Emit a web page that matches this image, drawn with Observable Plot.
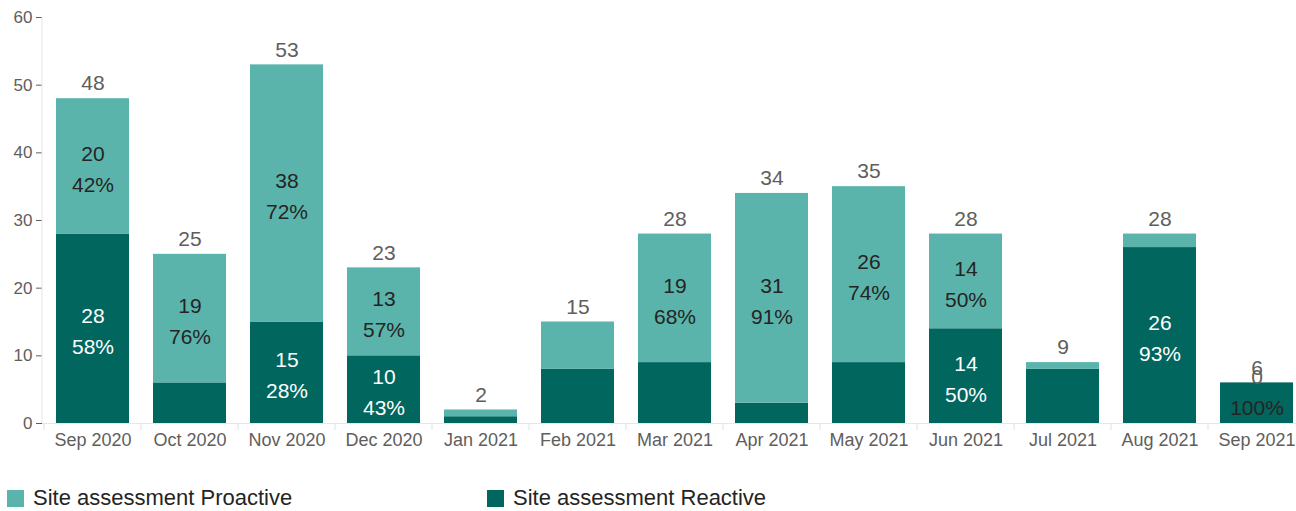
<!DOCTYPE html>
<html><head><meta charset="utf-8">
<script src="https://cdn.jsdelivr.net/npm/d3@7"></script>
<script src="https://cdn.jsdelivr.net/npm/@observablehq/plot@0.6"></script>
<style>
body{margin:0;background:#fff;font-family:"Liberation Sans",Arial,sans-serif;position:relative;width:1296px;height:511px;overflow:hidden;}
#legend{position:absolute;left:0;top:487px;display:flex;font-size:22px;line-height:1;color:#252423;}
#legend .item{display:flex;align-items:flex-start;width:480px;padding-left:7px;box-sizing:border-box;white-space:nowrap;}
#legend .sw{width:17px;height:17px;margin-top:3px;margin-right:9px;flex:none;}
</style></head><body><div id="chart"></div><div id="legend"></div>
<script>
const months = ["Sep 2020","Oct 2020","Nov 2020","Dec 2020","Jan 2021","Feb 2021","Mar 2021","Apr 2021","May 2021","Jun 2021","Jul 2021","Aug 2021","Sep 2021"];
const proactive = [20,19,38,13,1,7,19,31,26,14,1,2,0];
const reactive  = [28,6,15,10,1,8,9,3,9,14,8,26,6];
const seriesNames = ["Site assessment Reactive","Site assessment Proactive"];
const seriesColors = ["#01665e","#5ab4ac"];
const yTicks = [0,10,20,30,40,50,60];
const pctOnlyMonths = ["Sep 2021"];

const rows = [];
months.forEach((m,i)=>{
  const total = proactive[i]+reactive[i];
  rows.push({month:m, series:seriesNames[0], value:reactive[i], pct:Math.round(reactive[i]/total*100),
             mid:reactive[i]/2});
  rows.push({month:m, series:seriesNames[1], value:proactive[i], pct:Math.round(proactive[i]/total*100),
             mid:reactive[i]+proactive[i]/2});
});
const totals = months.map((m,i)=>({month:m, total:proactive[i]+reactive[i]}));
const normalRows = rows.filter(d => !pctOnlyMonths.includes(d.month) && d.value >= 10);
const specialReactive = rows.filter(d => pctOnlyMonths.includes(d.month) && d.series===seriesNames[0]);
const specialProactive = rows.filter(d => pctOnlyMonths.includes(d.month) && d.series===seriesNames[1]);

const chart = Plot.plot({
  width:1296, height:460,
  marginTop:17, marginBottom:37, marginLeft:42, marginRight:0,
  style:{fontFamily:"'Liberation Sans', Arial, sans-serif", background:"#fff"},
  x:{domain:months, range:[43,1305], paddingInner:0.25, paddingOuter:0.125, label:null},
  y:{domain:[0,60], label:null},
  color:{domain:seriesNames, range:seriesColors},
  marks:[
    Plot.ruleY([0],{stroke:"#e6e6e6"}),
    Plot.barY(rows, {x:"month", y:"value", fill:"series"}),
    Plot.text(normalRows, {x:"month", y:"mid",
      text:d=>`${d.value}\n${d.pct}%`,
      fill:d=>d.series===seriesNames[0] ? "#ffffff" : "#252423",
      fontSize:21, lineHeight:1.48}),
    Plot.text(specialReactive, {x:"month", y:"mid", text:d=>`${d.pct}%`, fill:"#252423", dy:5, fontSize:21}),
    Plot.text(totals, {x:"month", y:"total", text:d=>`${d.total}`, dy:-15, fontSize:21, fill:"#605e5c"}),
    Plot.text(specialProactive, {x:"month", y:"mid", text:d=>`${d.value}`, fill:"#605e5c", dy:-6, fontSize:21}),
    Plot.axisY({ticks:yTicks, tickSize:6, tickPadding:4, fontSize:17, color:"#605e5c", stroke:"#605e5c", label:null}),
    Plot.axisX({tickSize:0, tickPadding:10, fontSize:18, color:"#605e5c", label:null})
  ]
});
document.getElementById("chart").appendChild(chart);

// axis line & band separators from the library's scales
const xs = chart.scale("x"), ys = chart.scale("y");
const svg = d3.select(chart);
svg.append("line").attr("x1",42).attr("x2",42)
  .attr("y1",ys.apply(60)).attr("y2",ys.apply(0)).attr("stroke","#e6e6e6");
const step = xs.apply(months[1]) - xs.apply(months[0]);
const gap = step - xs.bandwidth;
const g = svg.append("g").attr("stroke","#e0e0e0");
for (let i=0;i<=months.length;i++){
  const bx = xs.apply(months[0]) - gap/2 + i*step;
  g.append("line").attr("x1",bx).attr("x2",bx).attr("y1",ys.apply(0)).attr("y2",ys.apply(0)+7);
}

// legend
const lg = document.getElementById("legend");
[seriesNames[1], seriesNames[0]].forEach(name=>{
  const it = document.createElement("div"); it.className="item";
  const sw = document.createElement("span"); sw.className="sw";
  sw.style.background = seriesColors[seriesNames.indexOf(name)];
  const tx = document.createElement("span"); tx.textContent = name;
  it.appendChild(sw); it.appendChild(tx); lg.appendChild(it);
});
</script></body></html>
